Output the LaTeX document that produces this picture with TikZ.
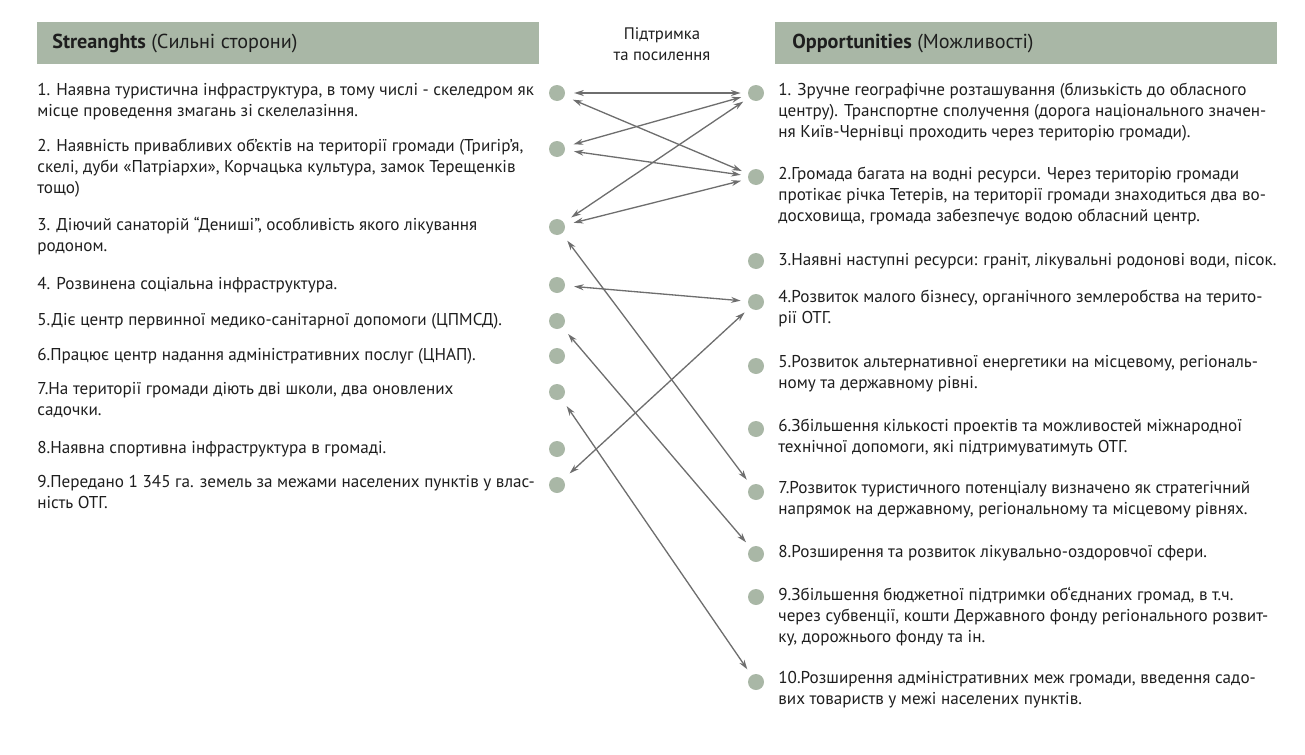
\documentclass[tikz,border=0pt]{standalone}
\usepackage{fontspec}
\setmainfont{PT Sans}
\usetikzlibrary{arrows.meta, positioning}
\definecolor{sagegray}{HTML}{A9B7A6}
\definecolor{linkgray}{HTML}{6E6E6E}
\definecolor{inkgray}{HTML}{1E1E1E}

\begin{document}
\begin{tikzpicture}[x=0.02cm, y=-0.02cm,
  headbox/.style={rectangle, fill=sagegray, minimum width=10.04cm, minimum height=0.84cm, anchor=north west},
  headtext/.style={anchor=base west, inner sep=0pt, text=inkgray, font=\fontsize{11.5}{13}\selectfont},
  itemtext/.style={anchor=north west, inner sep=0pt, align=left, text=inkgray, font=\fontsize{9.75}{11.9}\selectfont, execute at begin node=\strut},
  dot/.style={circle, fill=sagegray, inner sep=0pt, minimum size=0.32cm},
  link/.style={{Stealth[length=5.5pt,width=3.4pt]}-{Stealth[length=5.5pt,width=3.4pt]}, draw=linkgray, line width=0.75pt, shorten <=5pt, shorten >=4pt}]
\useasboundingbox (0,0) rectangle (1305,754);

% headers
\node[headbox] (shead) at (37,22) {};
\node[headbox] (ohead) at (775,22) {};
\node[headtext] (stitle) at (52,48) {\textbf{Streanghts} (Сильні сторони)};
\node[headtext] (otitle) at (792,48) {\textbf{Opportunities} (Можливості)};
\node[align=center, inner sep=0pt, text=inkgray, font=\fontsize{9.5}{11.9}\selectfont] (mid) at (662,44) {Підтримка\\та посилення};

% strengths
\node[itemtext] (st1) at (37,83) {1. Наявна туристична інфраструктура, в тому числі - скеледром як\\місце проведення змагань зі скелелазіння.};
\node[itemtext] (st2) at (37,139) {2. Наявність привабливих об'єктів на території громади (Тригір'я,\\скелі, дуби «Патріархи», Корчацька культура, замок Терещенків\\тощо)};
\node[itemtext] (st3) at (37,217) {3. Діючий санаторій “Дениші”, особливість якого лікування\\родоном.};
\node[itemtext] (st4) at (37,275) {4. Розвинена соціальна інфраструктура.};
\node[itemtext] (st5) at (37,311) {5.Діє центр первинної медико-санітарної допомоги (ЦПМСД).};
\node[itemtext] (st6) at (37,346) {6.Працює центр надання адміністративних послуг (ЦНАП).};
\node[itemtext] (st7) at (37,382) {7.На території громади діють дві школи, два оновлених\\садочки.};
\node[itemtext] (st8) at (37,439) {8.Наявна спортивна інфраструктура в громаді.};
\node[itemtext] (st9) at (37,475) {9.Передано 1 345 га. земель за межами населених пунктів у влас-\\ність ОТГ.};

% opportunities
\node[itemtext] (ot1) at (778,83) {1. Зручне географічне розташування (близькість до обласного\\центру). Транспортне сполучення (дорога національного значен-\\ня Київ-Чернівці проходить через територію громади).};
\node[itemtext] (ot2) at (778,167) {2.Громада багата на водні ресурси. Через територію громади\\протікає річка Тетерів, на території громади знаходиться два во-\\досховища, громада забезпечує водою обласний центр.};
\node[itemtext] (ot3) at (778,251) {3.Наявні наступні ресурси: граніт, лікувальні родонові води, пісок.};
\node[itemtext] (ot4) at (778,290) {4.Розвиток малого бізнесу, органічного землеробства на терито-\\рії ОТГ.};
\node[itemtext] (ot5) at (778,355) {5.Розвиток альтернативної енергетики на місцевому, регіональ-\\ному та державному рівні.};
\node[itemtext] (ot6) at (778,419) {6.Збільшення кількості проектів та можливостей міжнародної\\технічної допомоги, які підтримуватимуть ОТГ.};
\node[itemtext] (ot7) at (778,481) {7.Розвиток туристичного потенціалу визначено як стратегічний\\напрямок на державному, регіональному та місцевому рівнях.};
\node[itemtext] (ot8) at (778,543) {8.Розширення та розвиток лікувально-оздоровчої сфери.};
\node[itemtext] (ot9) at (778,587) {9.Збільшення бюджетної підтримки об‘єднаних громад, в т.ч.\\через субвенції, кошти Державного фонду регіонального розвит-\\ку, дорожнього фонду та ін.};
\node[itemtext] (ot10) at (778,671) {10.Розширення адміністративних меж громади, введення садо-\\вих товариств у межі населених пунктів.};

% dots
\node[dot] (s1) at (557,93) {};
\node[dot] (s2) at (557,149) {};
\node[dot] (s3) at (557,227) {};
\node[dot] (s4) at (557,285) {};
\node[dot] (s5) at (557,321) {};
\node[dot] (s6) at (557,356) {};
\node[dot] (s7) at (557,392) {};
\node[dot] (s8) at (557,449) {};
\node[dot] (s9) at (557,485) {};
\node[dot] (o1) at (756,93) {};
\node[dot] (o2) at (756,177) {};
\node[dot] (o3) at (756,261) {};
\node[dot] (o4) at (756,302) {};
\node[dot] (o5) at (756,366) {};
\node[dot] (o6) at (756,429) {};
\node[dot] (o7) at (756,492) {};
\node[dot] (o8) at (756,554) {};
\node[dot] (o9) at (756,597) {};
\node[dot] (o10) at (756,682) {};

% links
\draw[link] (s1) -- (o1);
\draw[link] (s1) -- (o2);
\draw[link] (s2) -- (o1);
\draw[link] (s2) -- (o2);
\draw[link] (s3) -- (o1);
\draw[link] (s3) -- (o2);
\draw[link] (s3) -- (o7);
\draw[link] (s4) -- (o4);
\draw[link] (s5) -- (o8);
\draw[link] (s7) -- (o10);
\draw[link] (s9) -- (o4);
\end{tikzpicture}
\end{document}
